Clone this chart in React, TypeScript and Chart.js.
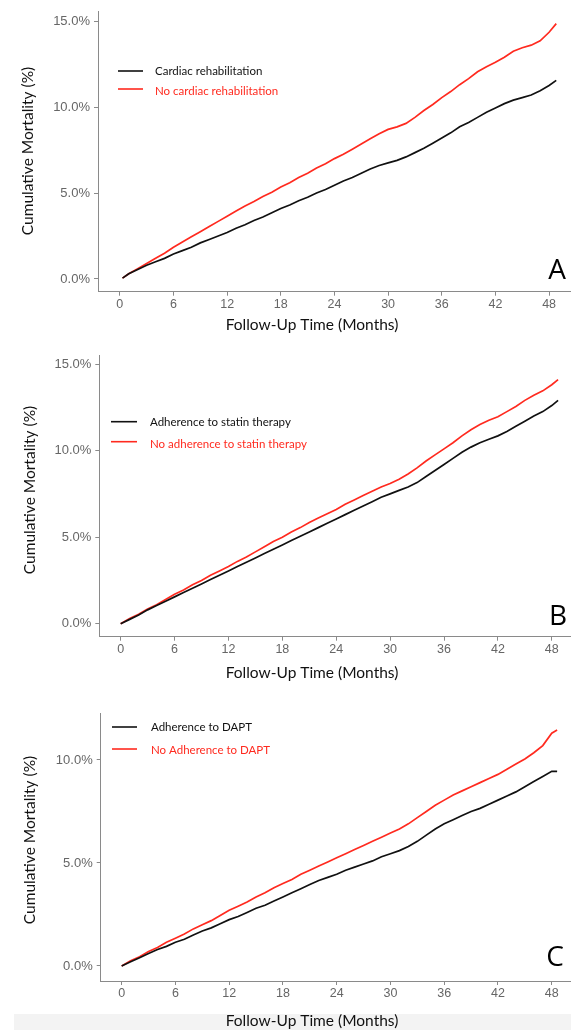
import React, { useEffect, useRef } from "react";
import { Chart, registerables } from "chart.js";
Chart.register(...registerables);

// ---------- DATA ----------
const xTickValues = [0, 6, 12, 18, 24, 30, 36, 42, 48];
const yTicksAB = [0, 5, 10, 15];
const yTicksC = [0, 5, 10];
const xAxisTitle = "Follow-Up Time (Months)";
const yAxisTitle = "Cumulative Mortality (%)";

// Panel A
const monthsA = [0.3, 1, 2, 3, 4, 5, 6, 7, 8, 9, 10, 11, 12, 13, 14, 15, 16, 17, 18, 19, 20, 21, 22, 23, 24, 25, 26, 27, 28, 29, 30, 31, 32, 33, 34, 35, 36, 37, 38, 39, 40, 41, 42, 43, 44, 45, 46, 47, 48, 48.8];
const rehabA = [0.05, 0.3, 0.55, 0.8, 1.0, 1.2, 1.45, 1.65, 1.85, 2.1, 2.3, 2.5, 2.7, 2.95, 3.15, 3.4, 3.6, 3.85, 4.1, 4.3, 4.55, 4.75, 5.0, 5.2, 5.45, 5.7, 5.9, 6.15, 6.4, 6.6, 6.75, 6.9, 7.1, 7.35, 7.6, 7.9, 8.2, 8.5, 8.85, 9.1, 9.4, 9.7, 9.95, 10.2, 10.4, 10.55, 10.7, 10.95, 11.25, 11.55];
const noRehabA = [0.05, 0.3, 0.6, 0.9, 1.2, 1.5, 1.85, 2.15, 2.45, 2.75, 3.05, 3.35, 3.65, 3.95, 4.25, 4.5, 4.8, 5.05, 5.35, 5.6, 5.9, 6.15, 6.45, 6.7, 7.0, 7.25, 7.55, 7.85, 8.15, 8.45, 8.7, 8.85, 9.05, 9.4, 9.8, 10.15, 10.55, 10.9, 11.3, 11.65, 12.05, 12.35, 12.6, 12.9, 13.25, 13.45, 13.6, 13.85, 14.35, 14.85];
const seriesNamesA = ["Cardiac rehabilitation", "No cardiac rehabilitation"];

// Panel B
const monthsB = [0, 1, 2, 3, 4, 5, 6, 7, 8, 9, 10, 11, 12, 13, 14, 15, 16, 17, 18, 19, 20, 21, 22, 23, 24, 25, 26, 27, 28, 29, 30, 31, 32, 33, 34, 35, 36, 37, 38, 39, 40, 41, 42, 43, 44, 45, 46, 47, 48, 48.7];
const statinB = [0, 0.25, 0.5, 0.8, 1.05, 1.3, 1.55, 1.8, 2.05, 2.3, 2.55, 2.8, 3.05, 3.3, 3.55, 3.8, 4.05, 4.3, 4.55, 4.8, 5.05, 5.3, 5.55, 5.8, 6.05, 6.3, 6.55, 6.8, 7.05, 7.3, 7.5, 7.7, 7.9, 8.15, 8.5, 8.85, 9.2, 9.55, 9.9, 10.2, 10.45, 10.65, 10.85, 11.1, 11.4, 11.7, 12.0, 12.25, 12.6, 12.9];
const noStatinB = [0, 0.3, 0.55, 0.85, 1.1, 1.4, 1.7, 1.95, 2.25, 2.5, 2.8, 3.05, 3.3, 3.6, 3.85, 4.15, 4.45, 4.75, 5.0, 5.3, 5.55, 5.85, 6.1, 6.35, 6.6, 6.9, 7.15, 7.4, 7.65, 7.9, 8.1, 8.35, 8.65, 9.0, 9.4, 9.75, 10.1, 10.45, 10.85, 11.2, 11.5, 11.75, 11.95, 12.25, 12.55, 12.9, 13.2, 13.45, 13.8, 14.1];
const seriesNamesB = ["Adherence to statin therapy", "No adherence to statin therapy"];

// Panel C
const monthsC = [0, 1, 2, 3, 4, 5, 6, 7, 8, 9, 10, 11, 12, 13, 14, 15, 16, 17, 18, 19, 20, 21, 22, 23, 24, 25, 26, 27, 28, 29, 30, 31, 32, 33, 34, 35, 36, 37, 38, 39, 40, 41, 42, 43, 44, 45, 46, 47, 48, 48.6];
const daptC = [0, 0.2, 0.4, 0.6, 0.8, 0.95, 1.15, 1.3, 1.5, 1.7, 1.85, 2.05, 2.25, 2.4, 2.6, 2.8, 2.95, 3.15, 3.35, 3.55, 3.75, 3.95, 4.15, 4.3, 4.45, 4.65, 4.8, 4.95, 5.1, 5.3, 5.45, 5.6, 5.8, 6.05, 6.35, 6.65, 6.9, 7.1, 7.3, 7.5, 7.65, 7.85, 8.05, 8.25, 8.45, 8.7, 8.95, 9.2, 9.45, 9.45];
const noDaptC = [0, 0.25, 0.45, 0.7, 0.9, 1.15, 1.35, 1.55, 1.8, 2.0, 2.2, 2.45, 2.7, 2.9, 3.1, 3.35, 3.55, 3.8, 4.0, 4.2, 4.45, 4.65, 4.85, 5.05, 5.25, 5.45, 5.65, 5.85, 6.05, 6.25, 6.45, 6.65, 6.9, 7.2, 7.5, 7.8, 8.05, 8.3, 8.5, 8.7, 8.9, 9.1, 9.3, 9.55, 9.8, 10.05, 10.35, 10.7, 11.3, 11.45];
const seriesNamesC = ["Adherence to DAPT", "No Adherence to DAPT"];

// ---------- STYLE / LAYOUT ----------
const BLACK = "#111111";
const RED = "#ff2a1f";
const AXIS = "#8a8a8a";
const TICK_TEXT = "#666666";
const W = 571;

type PanelCfg = {
  top: number; height: number;
  area: { left: number; top: number; bottom: number };
  x: [number, number]; y: [number, number]; yTicks: number[];
  months: number[]; black: number[]; red: number[]; names: string[];
  leg: { x0: number; x1: number; tx: number; y: number[]; ty: number[] };
  xTitleY: number; yTitle: [number, number]; letter: string; letterPos: [number, number];
};

const panels: PanelCfg[] = [
  {
    top: 0, height: 340,
    area: { left: 98, top: 11.4, bottom: 291.7 },
    x: [-2.44, 50.45], y: [-0.74, 15.54], yTicks: yTicksAB,
    months: monthsA, black: rehabA, red: noRehabA, names: seriesNamesA,
    leg: { x0: 118, x1: 143, tx: 155, y: [71, 89], ty: [71, 91] },
    xTitleY: 325, yTitle: [28, 151], letter: "A", letterPos: [557, 271],
  },
  {
    top: 340, height: 345,
    area: { left: 99.3, top: 15, bottom: 296.7 },
    x: [-2.38, 50.14], y: [-0.75, 15.52], yTicks: yTicksAB,
    months: monthsB, black: statinB, red: noStatinB, names: seriesNamesB,
    leg: { x0: 111, x1: 137, tx: 150, y: [81.7, 101.7], ty: [82, 104] },
    xTitleY: 333, yTitle: [30, 150], letter: "B", letterPos: [558, 277],
  },
  {
    top: 685, height: 345,
    area: { left: 100.7, top: 28, bottom: 296 },
    x: [-2.34, 50.15], y: [-0.73, 12.28], yTicks: yTicksC,
    months: monthsC, black: daptC, red: noDaptC, names: seriesNamesC,
    leg: { x0: 112, x1: 137, tx: 151, y: [42, 64], ty: [42, 65] },
    xTitleY: 336, yTitle: [30, 155], letter: "C", letterPos: [555, 273],
  },
];

function Panel({ cfg }: { cfg: PanelCfg }) {
  const ref = useRef<HTMLCanvasElement>(null);
  useEffect(() => {
    const overlay = {
      id: "overlay",
      afterDraw(chart: any) {
        const ctx = chart.ctx as CanvasRenderingContext2D;
        ctx.save();
        const colors = [BLACK, RED];
        cfg.names.forEach((name, i) => {
          ctx.strokeStyle = colors[i];
          ctx.lineWidth = 1.6;
          ctx.beginPath();
          ctx.moveTo(cfg.leg.x0, cfg.leg.y[i]);
          ctx.lineTo(cfg.leg.x1, cfg.leg.y[i]);
          ctx.stroke();
          ctx.fillStyle = colors[i];
          ctx.font = "11.5px Lato";
          ctx.textAlign = "left";
          ctx.textBaseline = "middle";
          ctx.fillText(name, cfg.leg.tx, cfg.leg.ty[i]);
        });
        ctx.fillStyle = "#111";
        ctx.font = "15.5px Lato";
        ctx.textAlign = "center";
        ctx.textBaseline = "middle";
        ctx.fillText(xAxisTitle, 312, cfg.xTitleY);
        ctx.save();
        ctx.translate(cfg.yTitle[0], cfg.yTitle[1]);
        ctx.rotate(-Math.PI / 2);
        ctx.fillText(yAxisTitle, 0, 0);
        ctx.restore();
        ctx.fillStyle = "#000";
        ctx.font = "28px 'Open Sans'";
        ctx.fillText(cfg.letter, cfg.letterPos[0], cfg.letterPos[1]);
        ctx.restore();
      },
    };
    const chart = new Chart(ref.current as HTMLCanvasElement, {
      type: "line",
      data: {
        datasets: [
          {
            label: cfg.names[0],
            data: cfg.months.map((m, i) => ({ x: m, y: cfg.black[i] })),
            borderColor: BLACK, borderWidth: 1.7, pointRadius: 0, tension: 0, fill: false,
          },
          {
            label: cfg.names[1],
            data: cfg.months.map((m, i) => ({ x: m, y: cfg.red[i] })),
            borderColor: RED, borderWidth: 1.7, pointRadius: 0, tension: 0, fill: false,
          },
        ],
      },
      options: {
        animation: false,
        responsive: false,
        maintainAspectRatio: false,
        layout: { padding: { left: 0, right: 0, top: cfg.area.top, bottom: 0 } },
        plugins: { legend: { display: false }, tooltip: { enabled: false }, title: { display: false } },
        scales: {
          x: {
            type: "linear",
            min: cfg.x[0], max: cfg.x[1],
            afterBuildTicks: (s: any) => { s.ticks = xTickValues.map((v) => ({ value: v })); },
            afterFit: (s: any) => { s.height = cfg.height - cfg.area.bottom; },
            ticks: { color: TICK_TEXT, font: { family: "'Liberation Sans'", size: 12.5 }, padding: 1, maxRotation: 0, autoSkip: false },
            grid: { display: true, drawOnChartArea: false, drawTicks: true, tickLength: 4, color: AXIS, tickColor: AXIS },
            border: { display: true, color: AXIS, width: 1 },
          },
          y: {
            type: "linear",
            min: cfg.y[0], max: cfg.y[1],
            afterBuildTicks: (s: any) => { s.ticks = cfg.yTicks.map((v) => ({ value: v })); },
            afterFit: (s: any) => { s.width = cfg.area.left; },
            ticks: {
              color: TICK_TEXT, font: { family: "'Liberation Sans'", size: 13 }, padding: 4,
              callback: (v: any) => Number(v).toFixed(1) + "%",
            },
            grid: { display: true, drawOnChartArea: false, drawTicks: true, tickLength: 4, color: AXIS, tickColor: AXIS },
            border: { display: true, color: AXIS, width: 1 },
          },
        },
      },
      plugins: [overlay],
    } as any);
    return () => chart.destroy();
  }, []);
  return (
    <canvas
      ref={ref}
      width={W}
      height={cfg.height}
      style={{ position: "absolute", left: 0, top: cfg.top, width: W, height: cfg.height }}
    />
  );
}

export default function App() {
  return (
    <div style={{ position: "absolute", left: 0, top: 0, width: W, height: 1030, overflow: "hidden", background: "#fff" }}>
      <div style={{ position: "absolute", left: 14, top: 1014, width: W - 14, height: 16, background: "#f3f3f3" }} />
      {panels.map((p) => (
        <Panel key={p.letter} cfg={p} />
      ))}
    </div>
  );
}
